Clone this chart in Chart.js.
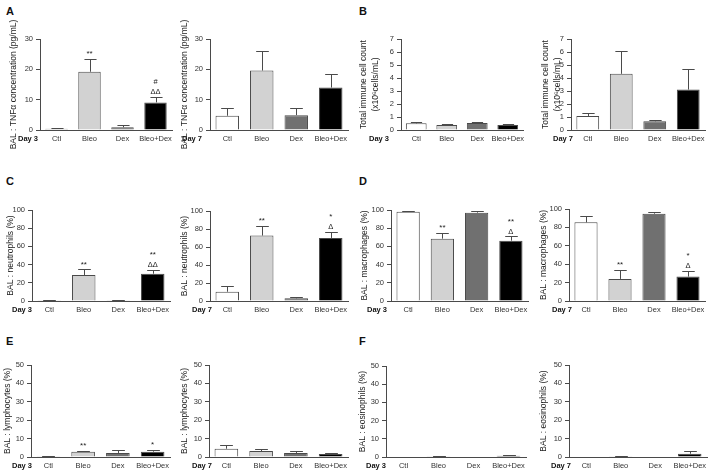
<!DOCTYPE html>
<html><head><meta charset="utf-8">
<script src="https://cdn.jsdelivr.net/npm/chart.js@4"></script>
<style>
html,body{margin:0;padding:0;background:#fff;width:709px;height:471px;overflow:hidden;position:relative;font-family:"Liberation Sans",Arial,sans-serif}
canvas{position:absolute}
.lt{position:absolute;font-weight:bold;font-size:11px;line-height:1;color:#111}
</style></head><body>
<div class="lt" style="left:6px;top:6px">A</div>
<div class="lt" style="left:359px;top:6px">B</div>
<div class="lt" style="left:6px;top:176px">C</div>
<div class="lt" style="left:359px;top:176px">D</div>
<div class="lt" style="left:6px;top:336px">E</div>
<div class="lt" style="left:359px;top:336px">F</div>
<script>
// ---------- DATA ----------
const categories = ['Ctl', 'Bleo', 'Dex', 'Bleo+Dex'];
const barColors = ['#ffffff', '#d2d2d2', '#707070', '#000000'];

const tnfTicks = [0, 10, 20, 30];
const cellTicks = [0, 1, 2, 3, 4, 5, 6, 7];
const pctTicks = [0, 20, 40, 60, 80, 100];
const lowPctTicks = [0, 10, 20, 30, 40, 50];

const tnfDay3 = [0.4, 19.2, 0.9, 9.1];
const tnfDay3Sem = [0.3, 4.3, 0.6, 1.9];
const tnfDay3Marks = [[], ['**'], [], ['ΔΔ', '#']];
const tnfDay7 = [4.7, 19.6, 4.9, 14.0];
const tnfDay7Sem = [2.4, 6.4, 2.5, 4.4];
const tnfDay7Marks = [[], [], [], []];

const cellsDay3 = [0.51, 0.39, 0.54, 0.39];
const cellsDay3Sem = [0.11, 0.07, 0.08, 0.07];
const cellsDay7 = [1.08, 4.32, 0.67, 3.11];
const cellsDay7Sem = [0.26, 1.72, 0.10, 1.59];
const noMarks = [[], [], [], []];

const neutroDay3 = [0.8, 28.6, 0.7, 30.0];
const neutroDay3Sem = [0.4, 6.2, 0.3, 4.4];
const neutroDay3Marks = [[], ['**'], [], ['ΔΔ', '**']];
const neutroDay7 = [10.3, 72.7, 3.0, 70.1];
const neutroDay7Sem = [6.3, 11.1, 1.1, 7.0];
const neutroDay7Marks = [[], ['**'], [], ['Δ', '*']];

const macroDay3 = [98.2, 68.5, 97.1, 66.3];
const macroDay3Sem = [0.7, 5.9, 2.2, 4.8];
const macroDay3Marks = [[], ['**'], [], ['Δ', '**']];
const macroDay7 = [85.5, 24.0, 94.9, 26.5];
const macroDay7Sem = [6.5, 9.8, 2.2, 6.2];
const macroDay7Marks = [[], ['**'], [], ['Δ', '*']];

const lymphoDay3 = [0.4, 2.9, 2.2, 2.9];
const lymphoDay3Sem = [0.2, 0.5, 1.8, 1.1];
const lymphoDay3Marks = [[], ['**'], [], ['*']];
const lymphoDay7 = [4.5, 3.2, 2.2, 1.6];
const lymphoDay7Sem = [1.8, 1.3, 0.9, 0.4];

const eosinoDay3 = [0, 0.2, 0, 0.7];
const eosinoDay3Sem = [0, 0.1, 0, 0.5];
const eosinoDay7 = [0, 0.4, 0, 1.8];
const eosinoDay7Sem = [0, 0.4, 0, 1.3];

const titleTnf = 'BAL : TNFα concentration (pg/mL)';
const titleCells = ['Total immune cell count', '(x10⁶cells/mL)'];
const titleNeutro = 'BAL : neutrophils (%)';
const titleMacro = 'BAL : macrophages (%)';
const titleLympho = 'BAL : lymphocytes (%)';
const titleEosino = 'BAL : eosinophils (%)';

// ---------- LAYOUT ----------
const panels = [
  {day:'Day 3', vals:tnfDay3, sem:tnfDay3Sem, marks:tnfDay3Marks, ticks:tnfTicks, title:titleTnf, L:40, T:39, B:130, R:172, tx:14, dayOff:-2},
  {day:'Day 7', vals:tnfDay7, sem:tnfDay7Sem, marks:tnfDay7Marks, ticks:tnfTicks, title:titleTnf, L:210, T:39, B:130, R:348, tx:185, dayOff:-8},
  {day:'Day 3', vals:cellsDay3, sem:cellsDay3Sem, marks:noMarks, ticks:cellTicks, title:titleCells, L:401, T:39, B:130, R:523, tx:363, dayOff:-12},
  {day:'Day 7', vals:cellsDay7, sem:cellsDay7Sem, marks:noMarks, ticks:cellTicks, title:titleCells, L:571, T:39, B:130, R:705, tx:545, dayOff:2},
  {day:'Day 3', vals:neutroDay3, sem:neutroDay3Sem, marks:neutroDay3Marks, ticks:pctTicks, title:titleNeutro, L:32, T:210, B:301, R:170, tx:11, dayOff:0},
  {day:'Day 7', vals:neutroDay7, sem:neutroDay7Sem, marks:neutroDay7Marks, ticks:pctTicks, title:titleNeutro, L:210, T:211, B:301, R:348, tx:185, dayOff:2},
  {day:'Day 3', vals:macroDay3, sem:macroDay3Sem, marks:macroDay3Marks, ticks:pctTicks, title:titleMacro, L:391, T:210, B:301, R:528, tx:365, dayOff:-4},
  {day:'Day 7', vals:macroDay7, sem:macroDay7Sem, marks:macroDay7Marks, ticks:pctTicks, title:titleMacro, L:569, T:209, B:301, R:705, tx:544, dayOff:3},
  {day:'Day 3', vals:lymphoDay3, sem:lymphoDay3Sem, marks:lymphoDay3Marks, ticks:lowPctTicks, title:titleLympho, L:31, T:365, B:457, R:170, tx:8, dayOff:1},
  {day:'Day 7', vals:lymphoDay7, sem:lymphoDay7Sem, marks:noMarks, ticks:lowPctTicks, title:titleLympho, L:209, T:365, B:457, R:348, tx:185, dayOff:3},
  {day:'Day 3', vals:eosinoDay3, sem:eosinoDay3Sem, marks:noMarks, ticks:lowPctTicks, title:titleEosino, L:386, T:366, B:457, R:526, tx:363, dayOff:0},
  {day:'Day 7', vals:eosinoDay7, sem:eosinoDay7Sem, marks:noMarks, ticks:lowPctTicks, title:titleEosino, L:569, T:365, B:457, R:707, tx:544, dayOff:2}
];

const FONT = '"Liberation Sans", Arial, sans-serif';
const AXIS = '#4a4a4a';

const errPlugin = {
  id: 'errbars',
  afterDatasetsDraw(chart) {
    const p = chart.options.plugins.errbars.panel;
    const meta = chart.getDatasetMeta(0);
    const ys = chart.scales.y;
    const ctx = chart.ctx;
    ctx.save();
    ctx.strokeStyle = AXIS;
    ctx.lineWidth = 1;
    meta.data.forEach((bar, i) => {
      const v = p.vals[i], e = p.sem[i];
      const y0 = ys.getPixelForValue(v);
      const y1 = ys.getPixelForValue(v + e);
      const cx = Math.round(bar.x) + 0.5;
      const hw = bar.width * 0.27;
      if (e > 0) {
        const yc = Math.round(y1) + 0.5;
        ctx.beginPath();
        ctx.moveTo(cx, y0);
        ctx.lineTo(cx, yc);
        ctx.moveTo(cx - hw, yc);
        ctx.lineTo(cx + hw, yc);
        ctx.stroke();
      }
      let yy = y1 - 1;
      ctx.fillStyle = '#222';
      ctx.textAlign = 'center';
      ctx.textBaseline = 'bottom';
      (p.marks[i] || []).forEach(m => {
        ctx.font = (m.indexOf('*') >= 0 ? '8px ' : '7.5px ') + FONT;
        ctx.fillText(m, bar.x, yy);
        yy -= 10;
      });
    });
    const ca = chart.chartArea;
    ctx.fillStyle = '#111';
    ctx.font = 'bold 7.5px ' + FONT;
    ctx.textAlign = 'right';
    ctx.textBaseline = 'middle';
    ctx.fillText(p.day, ca.left + p.dayOff, ca.bottom + 8.5);
    ctx.restore();
  }
};

panels.forEach(p => {
  const multi = Array.isArray(p.title);
  const tSize = 8.5;
  const tLH = multi ? tSize * 1.5 : tSize * 1.2;
  const left = Math.round(p.tx - tLH / 2);
  const top = Math.max(0, p.T - 32);
  const padTop = p.T - top, padRight = 2, xH = 17, padBottom = 16;
  const width = p.R - left + padRight;
  const height = p.B - p.T + padTop + xH + padBottom;
  const cv = document.createElement('canvas');
  cv.width = width; cv.height = height;
  cv.style.left = left + 'px'; cv.style.top = top + 'px';
  cv.style.width = width + 'px'; cv.style.height = height + 'px';
  document.body.appendChild(cv);
  const yWidth = p.L - left;
  const tk = p.ticks;
  new Chart(cv, {
    type: 'bar',
    data: {
      labels: categories,
      datasets: [{
        data: p.vals,
        backgroundColor: barColors,
        borderColor: AXIS,
        borderWidth: 1,
        borderSkipped: 'bottom',
        categoryPercentage: 1,
        barPercentage: 0.68
      }]
    },
    options: {
      responsive: false,
      animation: false,
      devicePixelRatio: 1,
      layout: {padding: {top: padTop, right: padRight, left: 0, bottom: padBottom}},
      plugins: {legend: {display: false}, tooltip: {enabled: false}, errbars: {panel: p}},
      scales: {
        x: {
          offset: true,
          grid: {display: false, drawTicks: false},
          border: {display: true, color: AXIS, width: 1},
          ticks: {font: {family: FONT, size: 7.5}, color: '#333', padding: 4, maxRotation: 0, autoSkip: false},
          afterFit(s) { s.height = xH; s.paddingLeft = 0; s.paddingRight = 0; }
        },
        y: {
          min: 0,
          max: tk[tk.length - 1],
          ticks: {stepSize: tk[1] - tk[0], font: {family: FONT, size: 7.5}, color: '#333', padding: 3},
          grid: {drawOnChartArea: false, drawTicks: true, tickLength: 4, color: AXIS},
          border: {display: true, color: AXIS, width: 1},
          title: {display: true, text: p.title, font: {family: FONT, size: tSize, lineHeight: tLH / tSize}, padding: 0, color: '#222'},
          afterFit(s) { s.width = yWidth; s.paddingTop = 0; s.paddingBottom = 0; }
        }
      }
    },
    plugins: [errPlugin]
  });
});
</script>
</body></html>
